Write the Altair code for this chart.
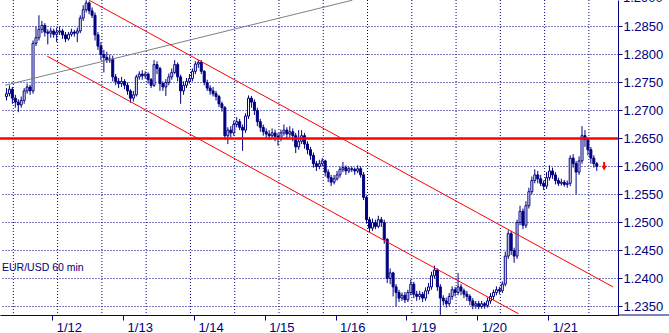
import altair as alt
import pandas as pd
import numpy as np

NAVY = "#000080"
FONT = "Liberation Sans"

first_open = 1.2725
closes = [
    1.2730, 1.2738, 1.2722, 1.2715, 1.2710, 1.2718, 1.2735, 1.2742, 1.2735, 1.2820,
    1.2830, 1.2845, 1.2852, 1.2840, 1.2838, 1.2842, 1.2836, 1.2840, 1.2842, 1.2835,
    1.2828, 1.2836, 1.2840, 1.2838, 1.2842, 1.2865, 1.2880, 1.2892, 1.2878, 1.2870,
    1.2835, 1.2815, 1.2800, 1.2795, 1.2790, 1.2792, 1.2760, 1.2752, 1.2748, 1.2752,
    1.2745, 1.2735, 1.2722, 1.2728, 1.2760, 1.2765, 1.2762, 1.2765, 1.2755, 1.2745,
    1.2782, 1.2775, 1.2748, 1.2742, 1.2750, 1.2760, 1.2768, 1.2782, 1.2760, 1.2735,
    1.2745, 1.2752, 1.2757, 1.2770, 1.2783, 1.2786, 1.2770, 1.2750, 1.2740, 1.2735,
    1.2730, 1.2725, 1.2712, 1.2705, 1.2655, 1.2665, 1.2660, 1.2675, 1.2680, 1.2670,
    1.2665, 1.2690, 1.2722, 1.2715, 1.2700, 1.2680, 1.2670, 1.2662, 1.2658, 1.2655,
    1.2660, 1.2654, 1.2650, 1.2660, 1.2665, 1.2658, 1.2662, 1.2655, 1.2635, 1.2645,
    1.2655, 1.2640, 1.2630, 1.2620, 1.2605, 1.2600, 1.2605, 1.2610, 1.2590, 1.2580,
    1.2572, 1.2578, 1.2585, 1.2595, 1.2598, 1.2592, 1.2596, 1.2595, 1.2592, 1.2596,
    1.2585, 1.2545, 1.2505, 1.2490, 1.2500, 1.2493, 1.2505, 1.2500, 1.2470, 1.2400,
    1.2410, 1.2385, 1.2375, 1.2365, 1.2370, 1.2362, 1.2375, 1.2390, 1.2372, 1.2368,
    1.2372, 1.2365, 1.2378, 1.2385, 1.2405, 1.2415, 1.2385, 1.2365, 1.2360, 1.2355,
    1.2368, 1.2380, 1.2375, 1.2385, 1.2378, 1.2372, 1.2368, 1.2360, 1.2352, 1.2355,
    1.2350, 1.2355, 1.2352, 1.2360, 1.2368, 1.2375, 1.2380, 1.2378, 1.2390, 1.2440,
    1.2480, 1.2450, 1.2440, 1.2500, 1.2520, 1.2495, 1.2530, 1.2555, 1.2575, 1.2585,
    1.2578, 1.2570, 1.2565, 1.2580, 1.2592, 1.2585, 1.2575, 1.2570, 1.2572, 1.2568,
    1.2570, 1.2615, 1.2605, 1.2590, 1.2610, 1.2655, 1.2648, 1.2630, 1.2615, 1.2605, 1.2600,
]
highs = [
    1.2740, 1.2745, 1.2742, 1.2728, 1.2720, 1.2725, 1.2740, 1.2748, 1.2746, 1.2825,
    1.2850, 1.2870, 1.2860, 1.2856, 1.2845, 1.2848, 1.2846, 1.2848, 1.2850, 1.2846,
    1.2840, 1.2840, 1.2846, 1.2844, 1.2848, 1.2870, 1.2888, 1.2897, 1.2895, 1.2884,
    1.2875, 1.2840, 1.2822, 1.2808, 1.2805, 1.2800, 1.2798, 1.2765, 1.2758, 1.2760,
    1.2756, 1.2750, 1.2738, 1.2735, 1.2764, 1.2770, 1.2772, 1.2770, 1.2768, 1.2758,
    1.2790, 1.2788, 1.2778, 1.2752, 1.2756, 1.2766, 1.2775, 1.2790, 1.2786, 1.2764,
    1.2752, 1.2758, 1.2765, 1.2775, 1.2788, 1.2790, 1.2790, 1.2772, 1.2755, 1.2745,
    1.2742, 1.2735, 1.2728, 1.2716, 1.2708, 1.2670, 1.2672, 1.2682, 1.2688, 1.2685,
    1.2675, 1.2695, 1.2727, 1.2726, 1.2720, 1.2705, 1.2685, 1.2675, 1.2668, 1.2665,
    1.2668, 1.2666, 1.2660, 1.2666, 1.2675, 1.2670, 1.2672, 1.2668, 1.2660, 1.2665,
    1.2665, 1.2660, 1.2645, 1.2635, 1.2625, 1.2610, 1.2612, 1.2615, 1.2612, 1.2595,
    1.2585, 1.2585, 1.2592, 1.2600, 1.2608, 1.2602, 1.2600, 1.2600, 1.2598, 1.2602,
    1.2600, 1.2590, 1.2548, 1.2510, 1.2507, 1.2505, 1.2512, 1.2510, 1.2505, 1.2472,
    1.2418, 1.2412, 1.2390, 1.2380, 1.2375, 1.2376, 1.2380, 1.2398, 1.2394, 1.2378,
    1.2378, 1.2376, 1.2384, 1.2392, 1.2412, 1.2423, 1.2418, 1.2390, 1.2370, 1.2366,
    1.2374, 1.2386, 1.2385, 1.2410, 1.2390, 1.2382, 1.2378, 1.2372, 1.2365, 1.2360,
    1.2360, 1.2360, 1.2358, 1.2366, 1.2374, 1.2380, 1.2386, 1.2385, 1.2395, 1.2448,
    1.2486, 1.2485, 1.2455, 1.2505, 1.2530, 1.2525, 1.2538, 1.2562, 1.2582, 1.2595,
    1.2592, 1.2585, 1.2575, 1.2590, 1.2602, 1.2598, 1.2590, 1.2580, 1.2578, 1.2576,
    1.2575, 1.2620, 1.2622, 1.2610, 1.2618, 1.2672, 1.2665, 1.2652, 1.2635, 1.2620, 1.2608,
]
lows = [
    1.2718, 1.2725, 1.2712, 1.2705, 1.2697, 1.2705, 1.2712, 1.2730, 1.2728, 1.2730,
    1.2815, 1.2825, 1.2838, 1.2832, 1.2818, 1.2830, 1.2830, 1.2822, 1.2835, 1.2828,
    1.2822, 1.2825, 1.2832, 1.2832, 1.2822, 1.2838, 1.2860, 1.2875, 1.2872, 1.2865,
    1.2825, 1.2808, 1.2790, 1.2768, 1.2785, 1.2785, 1.2752, 1.2745, 1.2740, 1.2742,
    1.2738, 1.2728, 1.2714, 1.2716, 1.2725, 1.2755, 1.2755, 1.2757, 1.2748, 1.2740,
    1.2742, 1.2765, 1.2735, 1.2735, 1.2726, 1.2745, 1.2755, 1.2765, 1.2752, 1.2712,
    1.2728, 1.2740, 1.2748, 1.2752, 1.2765, 1.2776, 1.2765, 1.2745, 1.2735, 1.2728,
    1.2725, 1.2718, 1.2706, 1.2698, 1.2648, 1.2640, 1.2652, 1.2655, 1.2670, 1.2665,
    1.2628, 1.2660, 1.2685, 1.2705, 1.2692, 1.2672, 1.2662, 1.2655, 1.2650, 1.2648,
    1.2650, 1.2645, 1.2637, 1.2645, 1.2655, 1.2650, 1.2652, 1.2645, 1.2624, 1.2630,
    1.2640, 1.2632, 1.2622, 1.2612, 1.2598, 1.2592, 1.2595, 1.2600, 1.2582, 1.2572,
    1.2565, 1.2568, 1.2575, 1.2580, 1.2590, 1.2585, 1.2588, 1.2590, 1.2585, 1.2588,
    1.2580, 1.2540, 1.2498, 1.2482, 1.2485, 1.2488, 1.2490, 1.2492, 1.2462, 1.2392,
    1.2390, 1.2368, 1.2350, 1.2358, 1.2360, 1.2356, 1.2358, 1.2370, 1.2365, 1.2360,
    1.2362, 1.2358, 1.2360, 1.2372, 1.2380, 1.2400, 1.2378, 1.2335, 1.2352, 1.2348,
    1.2350, 1.2362, 1.2368, 1.2370, 1.2370, 1.2365, 1.2360, 1.2352, 1.2345, 1.2346,
    1.2345, 1.2346, 1.2346, 1.2348, 1.2355, 1.2362, 1.2370, 1.2372, 1.2374, 1.2386,
    1.2435, 1.2442, 1.2428, 1.2435, 1.2495, 1.2488, 1.2490, 1.2525, 1.2550, 1.2570,
    1.2570, 1.2565, 1.2558, 1.2560, 1.2575, 1.2578, 1.2568, 1.2565, 1.2566, 1.2564,
    1.2562, 1.2565, 1.2598, 1.2550, 1.2585, 1.2605, 1.2635, 1.2620, 1.2605, 1.2598, 1.2592,
]

price_ticks = [1.2350, 1.2400, 1.2450, 1.2500, 1.2550, 1.2600, 1.2650, 1.2700,
               1.2750, 1.2800, 1.2850]
day_ticks = [15.5, 39.5, 63.5, 87.5, 111.5, 135.5, 159.5, 183.5]
day_labels = ["1/12", "1/13", "1/14", "1/15", "1/16", "1/19", "1/20", "1/21"]
vgrid = [2.33, 17.33, 32.33, 47.33, 62.33, 77.33, 92.33, 107.33, 122.33,
         137.33, 152.33, 167.33, 182.33, 197.33]

support_level = 1.2650
upper_channel = {"x": [28.0, 205.5], "p": [1.2897, 1.2385]}
lower_channel = {"x": [13.8, 173.5], "p": [1.2797, 1.2337]}
gray_trend = {"x": [-0.5, 117.2], "p": [1.2745, 1.2897]}
arrow = {"x": 202.5, "top": 1.2608, "bottom": 1.2600, "head": 1.2597}

opens = [first_open] + closes[:-1]
df = pd.DataFrame({"i": list(range(len(closes))), "open": opens, "close": closes,
                   "high": highs, "low": lows})
df["body_lo"] = df[["open", "close"]].min(axis=1)
df["body_hi"] = df[["open", "close"]].max(axis=1)
df["body_hi"] = np.where(df["body_hi"] - df["body_lo"] < 0.00004, df["body_lo"] + 0.00004, df["body_hi"])
df["high"] = df[["high", "body_hi"]].max(axis=1)
df["low"] = df[["low", "body_lo"]].min(axis=1)
df["dir"] = np.where(df["close"] >= df["open"], "up", "down")

xs = alt.Scale(domain=[-0.5, 205.5], nice=False, zero=False)
ys = alt.Scale(domain=[1.233482, 1.289732], nice=False, zero=False)

label_expr = "[" + ",".join(f"'{d}'" for d in day_labels) + "][indexof([" + \
    ",".join(str(v) for v in day_ticks) + "], datum.value)]"

x_axis = alt.Axis(values=day_ticks, labelExpr=label_expr, grid=False, tickSize=5,
                  tickColor=NAVY, domainColor=NAVY, labelColor=NAVY, labelFont=FONT,
                  labelFontSize=13, labelAlign="left", labelOffset=4, labelPadding=1,
                  labelBaseline="top", title=None, labelFlush=False, labelOverlap=False)
y_axis = alt.Axis(orient="right", values=price_ticks, format=".4f", grid=True,
                  gridDash=[1, 2], gridColor=NAVY, gridWidth=1, tickSize=4,
                  tickColor=NAVY, domainColor=NAVY, labelColor=NAVY, labelFont=FONT,
                  labelFontSize=13, labelPadding=1, title=None, labelFlush=False,
                  labelOverlap=False)

def X(field):
    return alt.X(field, type="quantitative", scale=xs, axis=x_axis)

def Y(field):
    return alt.Y(field, type="quantitative", scale=ys, axis=y_axis)

grid_df = pd.DataFrame({"v": vgrid})
vgrid_layer = alt.Chart(grid_df).mark_rule(color=NAVY, strokeWidth=1, strokeDash=[1, 2]).encode(
    x=X("v"), y=alt.value(0), y2=alt.value(315))

wicks = alt.Chart(df).mark_rule(color=NAVY, strokeWidth=1).encode(
    x=X("i"), y=Y("low"), y2="high")
bodies = alt.Chart(df).mark_bar(size=2, stroke=NAVY, strokeWidth=1).encode(
    x=X("i"), y=Y("body_lo"), y2="body_hi",
    fill=alt.Fill("dir:N", scale=alt.Scale(domain=["up", "down"], range=["white", NAVY]), legend=None))

def seg(d, color, width):
    sdf = pd.DataFrame(d)
    return alt.Chart(sdf).mark_line(color=color, strokeWidth=width, clip=True).encode(
        x=X("x"), y=Y("p"))

gray_layer = seg(gray_trend, "#808080", 1)
upper_layer = seg(upper_channel, "#ff0000", 1)
lower_layer = seg(lower_channel, "#ff0000", 1)

hline = alt.Chart(pd.DataFrame({"p": [support_level]})).mark_rule(color="#ff0000", strokeWidth=2.5).encode(
    y=Y("p"), x=alt.value(0), x2=alt.value(618))

arrow_df = pd.DataFrame({"x": [arrow["x"]], "top": [arrow["top"]], "bottom": [arrow["bottom"]],
                         "head": [arrow["head"]]})
arrow_shaft = alt.Chart(arrow_df).mark_rule(color="#ff0000", strokeWidth=2).encode(
    x=X("x"), y=Y("top"), y2="bottom")
arrow_head = alt.Chart(arrow_df).mark_point(shape="triangle-down", filled=True, color="#ff0000",
                                            size=30, opacity=1).encode(x=X("x"), y=Y("head"))

title_df = pd.DataFrame({"t": ["EUR/USD 60 min"], "p": [1.2418]})
title_layer = alt.Chart(title_df).mark_text(align="left", baseline="middle", font=FONT,
                                            fontSize=10.5, color=NAVY).encode(
    x=alt.value(2), y=Y("p"), text="t:N")

top_df = pd.DataFrame({"t": ["1.2900"], "p": [1.2900]})
top_label = alt.Chart(top_df).mark_text(align="left", baseline="middle", font=FONT,
                                        fontSize=13, color=NAVY).encode(
    x=alt.value(623), y=Y("p"), text="t:N")

axis_ext = alt.Chart(pd.DataFrame({"a": [0]})).mark_rule(color=NAVY, strokeWidth=1).encode(
    x=alt.value(618), x2=alt.value(669), y=alt.value(315))

chart = alt.layer(
    vgrid_layer, wicks, bodies, gray_layer, upper_layer, lower_layer, hline,
    arrow_shaft, arrow_head, title_layer, top_label, axis_ext
).properties(
    width=618, height=315,
    autosize=alt.AutoSizeParams(type="none"),
    padding={"left": 0, "top": 0, "right": 51, "bottom": 18},
    background="white",
).configure_view(stroke=None)

chart.save("out.html", embed_options={"renderer": "svg", "actions": False})
